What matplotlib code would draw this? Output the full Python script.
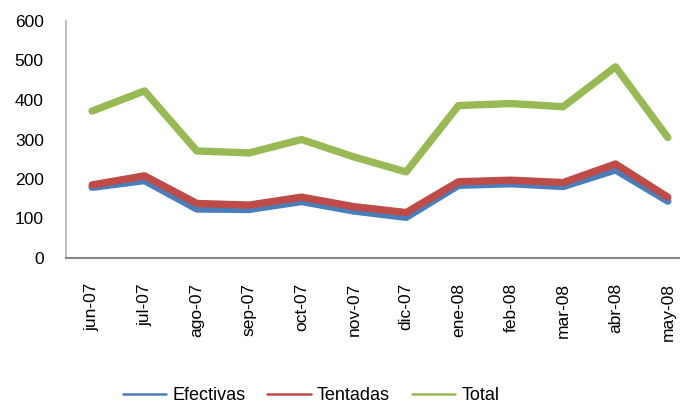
import matplotlib
matplotlib.use("Agg")
import matplotlib.pyplot as plt

months = ["jun-07", "jul-07", "ago-07", "sep-07", "oct-07", "nov-07", "dic-07",
          "ene-08", "feb-08", "mar-08", "abr-08", "may-08"]
efectivas = [179, 196, 124, 123, 143, 119, 103, 184, 188, 181, 223, 144]
tentadas = [185, 208, 138, 134, 154, 130, 115, 193, 197, 191, 238, 154]
total = [372, 423, 271, 266, 300, 256, 218, 386, 391, 383, 484, 305]
yticks = [0, 100, 200, 300, 400, 500, 600]

plt.rcParams['font.family'] = ['Liberation Sans', 'DejaVu Sans']

fig = plt.figure(figsize=(6.8, 4.04), dpi=100)
ax = fig.add_axes([66/680, 146/404, 628/680, 237/404])

x = list(range(len(months)))
kw = dict(lw=5.3, solid_capstyle="round", solid_joinstyle="round")
ax.plot(x, efectivas, color="#4A7EBB", label="Efectivas", **kw)
ax.plot(x, tentadas, color="#BE4B48", label="Tentadas", **kw)
ax.plot(x, total, color="#98B954", label="Total", **kw)

ax.set_xlim(-0.5, len(months) - 0.5)
ax.set_ylim(0, 600)
ax.set_yticks(yticks)
ax.set_yticklabels([str(v) for v in yticks], fontsize=12.5)
ax.set_xticks(x)
ax.set_xticklabels(months, rotation=90, fontsize=12.5, va="top")
ax.tick_params(axis="y", length=0, pad=16)
ax.tick_params(axis="x", length=0, pad=18)

for s in ["top", "right"]:
    ax.spines[s].set_visible(False)
ax.spines["left"].set_color("#BFBFBF")
ax.spines["left"].set_linewidth(1.5)
ax.spines["bottom"].set_color("#868686")
ax.spines["bottom"].set_linewidth(1.5)

leg = fig.legend(loc="center", bbox_to_anchor=(311/680, 1 - 396/404), ncol=3,
                 frameon=False, fontsize=13, handlelength=2.4, handletextpad=0.35,
                 columnspacing=1.2)
for line in leg.get_lines():
    line.set_linewidth(1.8)

fig.savefig("out.png", dpi=100)
